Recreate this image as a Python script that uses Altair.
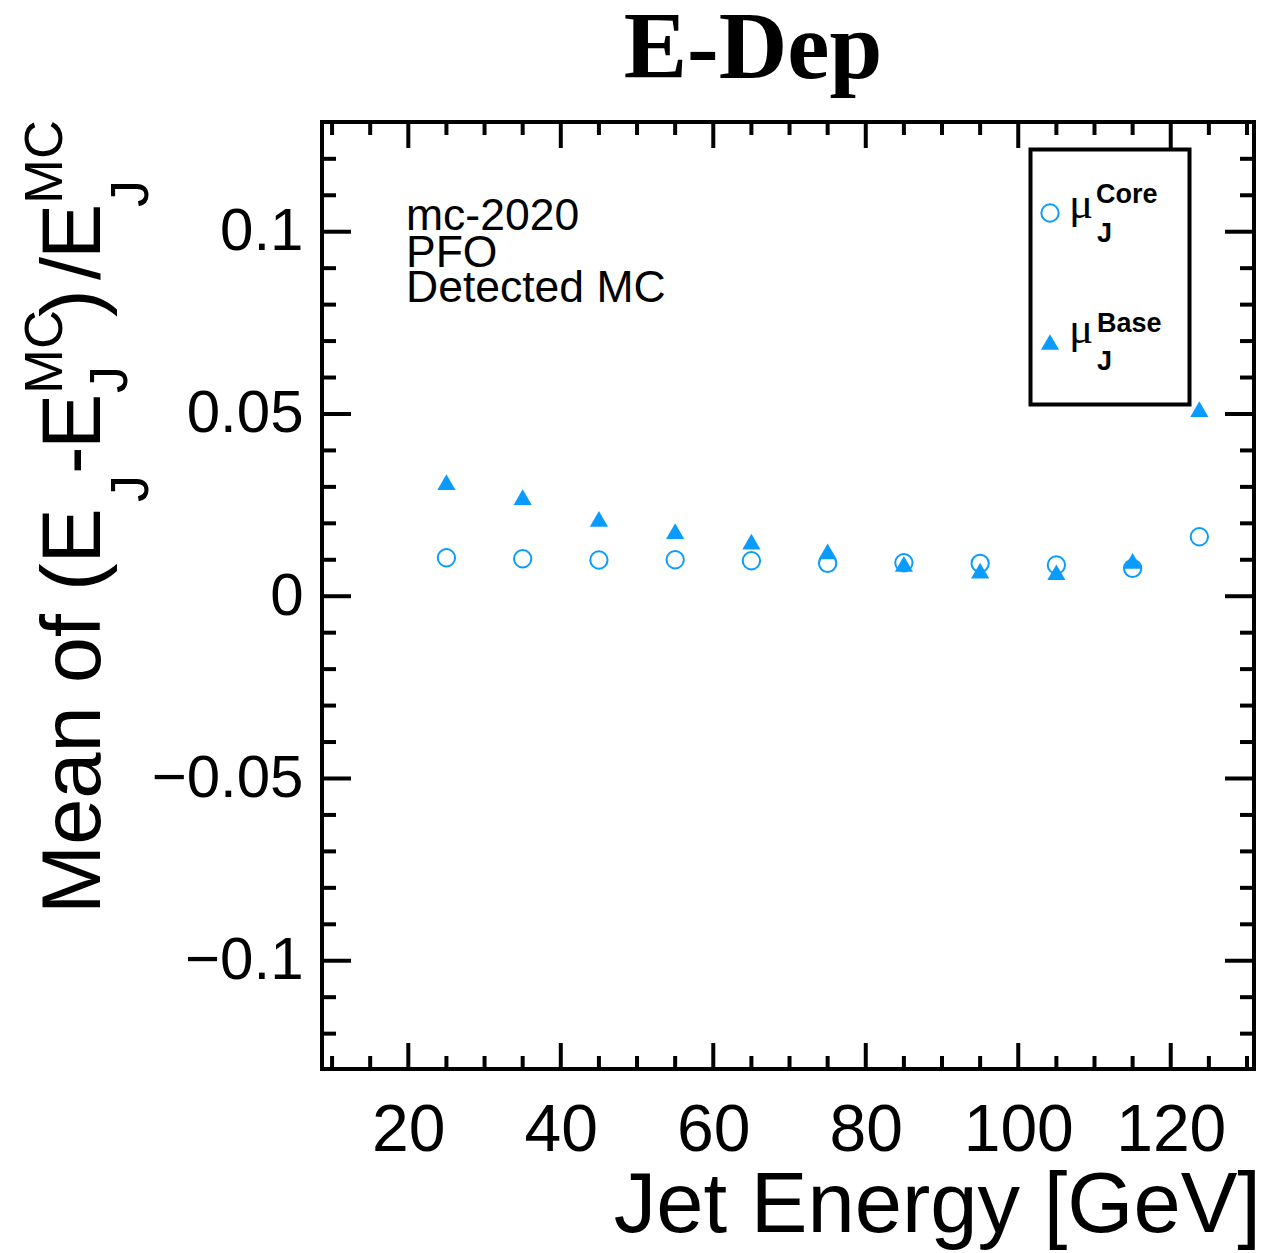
import altair as alt
import pandas as pd

# ---------------- data ----------------
energy = [25, 35, 45, 55, 65, 75, 85, 95, 105, 115, 123.75]
mu_core = [0.01056, 0.01029, 0.00993, 0.01001, 0.00974, 0.00903, 0.00919, 0.00903, 0.00856, 0.00765, 0.01632]
mu_base = [0.03133, 0.02722, 0.02123, 0.01789, 0.01501, 0.01232, 0.00889, 0.00705, 0.00658, 0.00971, 0.05130]
series_names = ["Core", "Base"]

x_major = [20, 40, 60, 80, 100, 120]
x_minor = [10, 15, 25, 30, 35, 45, 50, 55, 65, 70, 75, 85, 90, 95, 105, 110, 115, 125, 130]
y_major = [-0.1, -0.05, 0, 0.05, 0.1]
y_minor = [-0.12, -0.11, -0.09, -0.08, -0.07, -0.06, -0.04, -0.03, -0.02, -0.01,
           0.01, 0.02, 0.03, 0.04, 0.06, 0.07, 0.08, 0.09, 0.11, 0.12]

title_text = "E-Dep"
x_title = "Jet Energy [GeV]"
info_lines = ["mc-2020", "PFO", "Detected MC"]
mu_symbol = "\u03bc"
sub_j = "J"

# ---------------- layout ----------------
W, H = 932, 947
LEFT, TOP = 322, 122
BLUE = "#0A9BFF"
SANS = "Liberation Sans"
SERIF = "Liberation Serif"

xscale = alt.Scale(domain=[8.68, 130.92], nice=False, zero=False)
yscale = alt.Scale(domain=[-0.1297, 0.1301], nice=False, zero=False)

df_core = pd.DataFrame({"energy": energy, "mu": mu_core, "series": series_names[0]})
df_base = pd.DataFrame({"energy": energy, "mu": mu_base, "series": series_names[1]})

x_axis = alt.Axis(values=x_major, ticks=False, tickSize=0, domain=False, grid=False,
                  labelFont=SANS, labelFontSize=66, labelColor="black", labelPadding=29,
                  labelFlush=False, labelOverlap=False, title=None, format="d")
y_axis = alt.Axis(values=y_major, ticks=False, tickSize=0, domain=False, grid=False,
                  labelFont=SANS, labelFontSize=60, labelColor="black", labelPadding=19,
                  labelOverlap=False, labelFlush=False, title=None,
                  labelExpr="datum.value < -0.0001 ? '\u2212' + format(-datum.value, '~g') : (abs(datum.value) < 0.0001 ? '0' : format(datum.value, '~g'))")

X = lambda f: alt.X(f, scale=xscale, axis=x_axis)
Y = lambda f: alt.Y(f, scale=yscale, axis=y_axis)

core = alt.Chart(df_core).mark_point(shape="circle", filled=False, strokeWidth=2, size=300,
                                     color=BLUE, opacity=1).encode(
    x=X("energy:Q"), y=Y("mu:Q"))
base = alt.Chart(df_base).mark_point(shape="triangle-up", filled=True, size=330,
                                     color=BLUE, opacity=1).encode(
    x=X("energy:Q"), y=Y("mu:Q"))

def xticks(vals, length, top):
    d = pd.DataFrame({"v": vals})
    return alt.Chart(d).mark_rule(color="black", strokeWidth=4).encode(
        x=X("v:Q"),
        y=alt.value(0 if top else H),
        y2=alt.value(length if top else H - length),
    )

def yticks(vals, length, right):
    d = pd.DataFrame({"v": vals})
    return alt.Chart(d).mark_rule(color="black", strokeWidth=4).encode(
        y=Y("v:Q"),
        x=alt.value(W if right else 0),
        x2=alt.value(W - length if right else length),
    )

ticks = [
    xticks(x_major, 26, False), xticks(x_minor, 13, False),
    xticks(x_major, 26, True), xticks(x_minor, 13, True),
    yticks(y_major, 29, False), yticks(y_minor, 14, False),
    yticks(y_major, 29, True), yticks(y_minor, 14, True),
]

one = pd.DataFrame({"a": [0]})

def txt(s, x, y, size, angle=0, font=SANS, weight="normal", align="left",
        baseline="alphabetic"):
    d = pd.DataFrame({"t": [s]})
    return alt.Chart(d).mark_text(fontSize=size, font=font, fontWeight=weight, align=align,
                                  baseline=baseline, angle=angle, color="black").encode(
        text="t:N", x=alt.value(x), y=alt.value(y))

# y-axis title: Mean of (E_J - E_J^MC)/E_J^MC, rotated
ytitle = [
    txt("Mean of (E", -222, 792, 83, angle=270),
    txt(sub_j, -174, 380, 54, angle=270),
    txt("-", -222, 352, 83, angle=270),
    txt("E", -222, 327, 83, angle=270),
    txt("MC", -260, 272, 54, angle=270),
    txt(sub_j, -195, 271, 54, angle=270),
    txt(")", -222, 195, 83, angle=270),
    txt("/", -222, 158, 83, angle=270),
    txt("E", -222, 137, 83, angle=270),
    txt("MC", -260, 82, 54, angle=270),
    txt(sub_j, -174, 85, 54, angle=270),
]

texts = [
    txt(title_text, 431, -44, 95, font=SERIF, weight="bold", align="center"),
    txt(x_title, 939, 1110, 85, align="right"),
    txt(info_lines[0], 84, 108, 44.5),
    txt(info_lines[1], 84, 145, 44.5),
    txt(info_lines[2], 84, 180, 44.5),
]

legend_box = alt.Chart(one).mark_rect(fill="white", stroke="black", strokeWidth=4).encode(
    x=alt.value(708.5), x2=alt.value(867.5), y=alt.value(27.5), y2=alt.value(282.5))
leg_core_sym = alt.Chart(one).mark_point(shape="circle", filled=False, strokeWidth=2, size=300,
                                         color=BLUE, opacity=1).encode(
    x=alt.value(728), y=alt.value(91))
leg_base_sym = alt.Chart(one).mark_point(shape="triangle-up", filled=True, size=330,
                                         color=BLUE, opacity=1).encode(
    x=alt.value(728), y=alt.value(220))
legend = [
    legend_box, leg_core_sym, leg_base_sym,
    txt(mu_symbol, 747, 96, 45, font=SERIF),
    txt(series_names[0], 774, 81, 27, weight="bold"),
    txt(sub_j, 775, 120, 27, weight="bold"),
    txt(mu_symbol, 747, 221, 45, font=SERIF),
    txt(series_names[1], 775, 210, 27, weight="bold"),
    txt(sub_j, 775, 248, 27, weight="bold"),
]

chart = alt.layer(core, *ticks, *legend, base, *ytitle, *texts).properties(
    width=W, height=H,
    autosize=alt.AutoSizeParams(type="none"),
    padding={"left": LEFT, "top": TOP, "right": 1266 - LEFT - W, "bottom": 1253 - TOP - H},
).configure(background="white").configure_view(stroke="black", strokeWidth=4)

chart.save("out.html", embed_options={"renderer": "svg", "actions": False})
